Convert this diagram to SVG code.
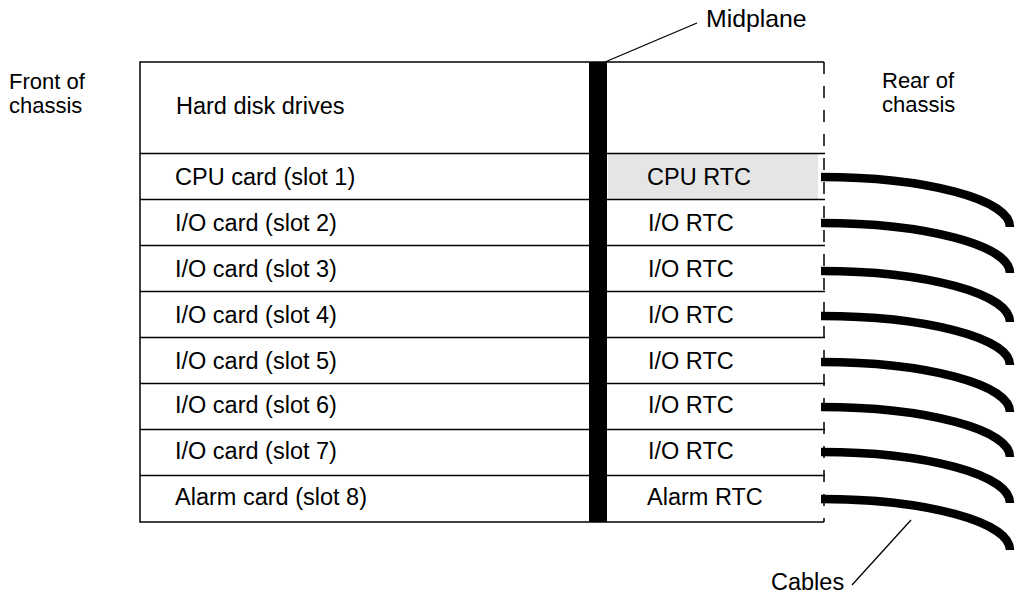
<svg xmlns="http://www.w3.org/2000/svg" width="1015" height="597" viewBox="0 0 1015 597">
<style>
text{font-family:"Liberation Sans",Arial,sans-serif;font-size:23.5px;fill:#000}
.side{font-size:22px}
.big{font-size:24.8px}
.sep{stroke:#000;stroke-width:1.5}
.cable{fill:none;stroke:#000;stroke-width:8.5;stroke-linecap:butt}
.lead{stroke:#000;stroke-width:1.3;fill:none}
</style>
<rect width="1015" height="597" fill="#fff"/>
<g id="labels">
<text class="side" x="9" y="89">Front of</text>
<text class="side" x="9" y="113">chassis</text>
<text class="side" x="882" y="88">Rear of</text>
<text class="side" x="882" y="112">chassis</text>
</g>
<g id="chassis">
<path class="sep" d="M824,62 H140 V522 H824" fill="none"/>
<rect x="608" y="154" width="210" height="45" fill="#e5e5e5"/>
<path class="sep" d="M140,153.5H825M140,199.5H825M140,245.5H825M140,291.5H825M140,337.5H825M140,383.5H825M140,429.5H825M140,475.5H825"/>
<line x1="824" y1="62" x2="824" y2="522" stroke="#000" stroke-width="1.5" stroke-dasharray="12,12"/>
</g>
<g id="midplane"><rect x="589" y="62" width="18" height="460" fill="#000"/></g>
<g id="hdd"><text x="176" y="114">Hard disk drives</text></g>
<g id="slot1"><text x="175" y="185">CPU card (slot 1)</text><text x="647" y="185">CPU RTC</text></g>
<g id="slot2"><text x="175" y="231">I/O card (slot 2)</text><text x="648" y="231">I/O RTC</text></g>
<g id="slot3"><text x="175" y="277">I/O card (slot 3)</text><text x="648" y="277">I/O RTC</text></g>
<g id="slot4"><text x="175" y="323">I/O card (slot 4)</text><text x="648" y="323">I/O RTC</text></g>
<g id="slot5"><text x="175" y="369">I/O card (slot 5)</text><text x="648" y="369">I/O RTC</text></g>
<g id="slot6"><text x="175" y="413">I/O card (slot 6)</text><text x="648" y="413">I/O RTC</text></g>
<g id="slot7"><text x="175" y="459">I/O card (slot 7)</text><text x="648" y="459">I/O RTC</text></g>
<g id="slot8"><text x="175" y="505">Alarm card (slot 8)</text><text x="647" y="505">Alarm RTC</text></g>
<g id="connectors">
<path class="cable" d="M821,177 A189,50 0 0 1 1010,227"/>
<path class="cable" d="M821,223 A189,50 0 0 1 1010,273"/>
<path class="cable" d="M821,271 A189,51 0 0 1 1010,322"/>
<path class="cable" d="M821,316 A189,49 0 0 1 1010,365"/>
<path class="cable" d="M821,362 A189,50 0 0 1 1010,412"/>
<path class="cable" d="M821,407 A189,50 0 0 1 1010,457"/>
<path class="cable" d="M821,452 A189,51 0 0 1 1010,503"/>
<path class="cable" d="M821,499 A189,51 0 0 1 1010,550"/>
<line class="lead" x1="605" y1="62" x2="697" y2="23"/>
<line class="lead" x1="852" y1="585" x2="911" y2="520"/>
</g>
<g id="callouts">
<text class="big" x="706" y="27">Midplane</text>
<text x="771" y="590">Cables</text>
</g>
</svg>
